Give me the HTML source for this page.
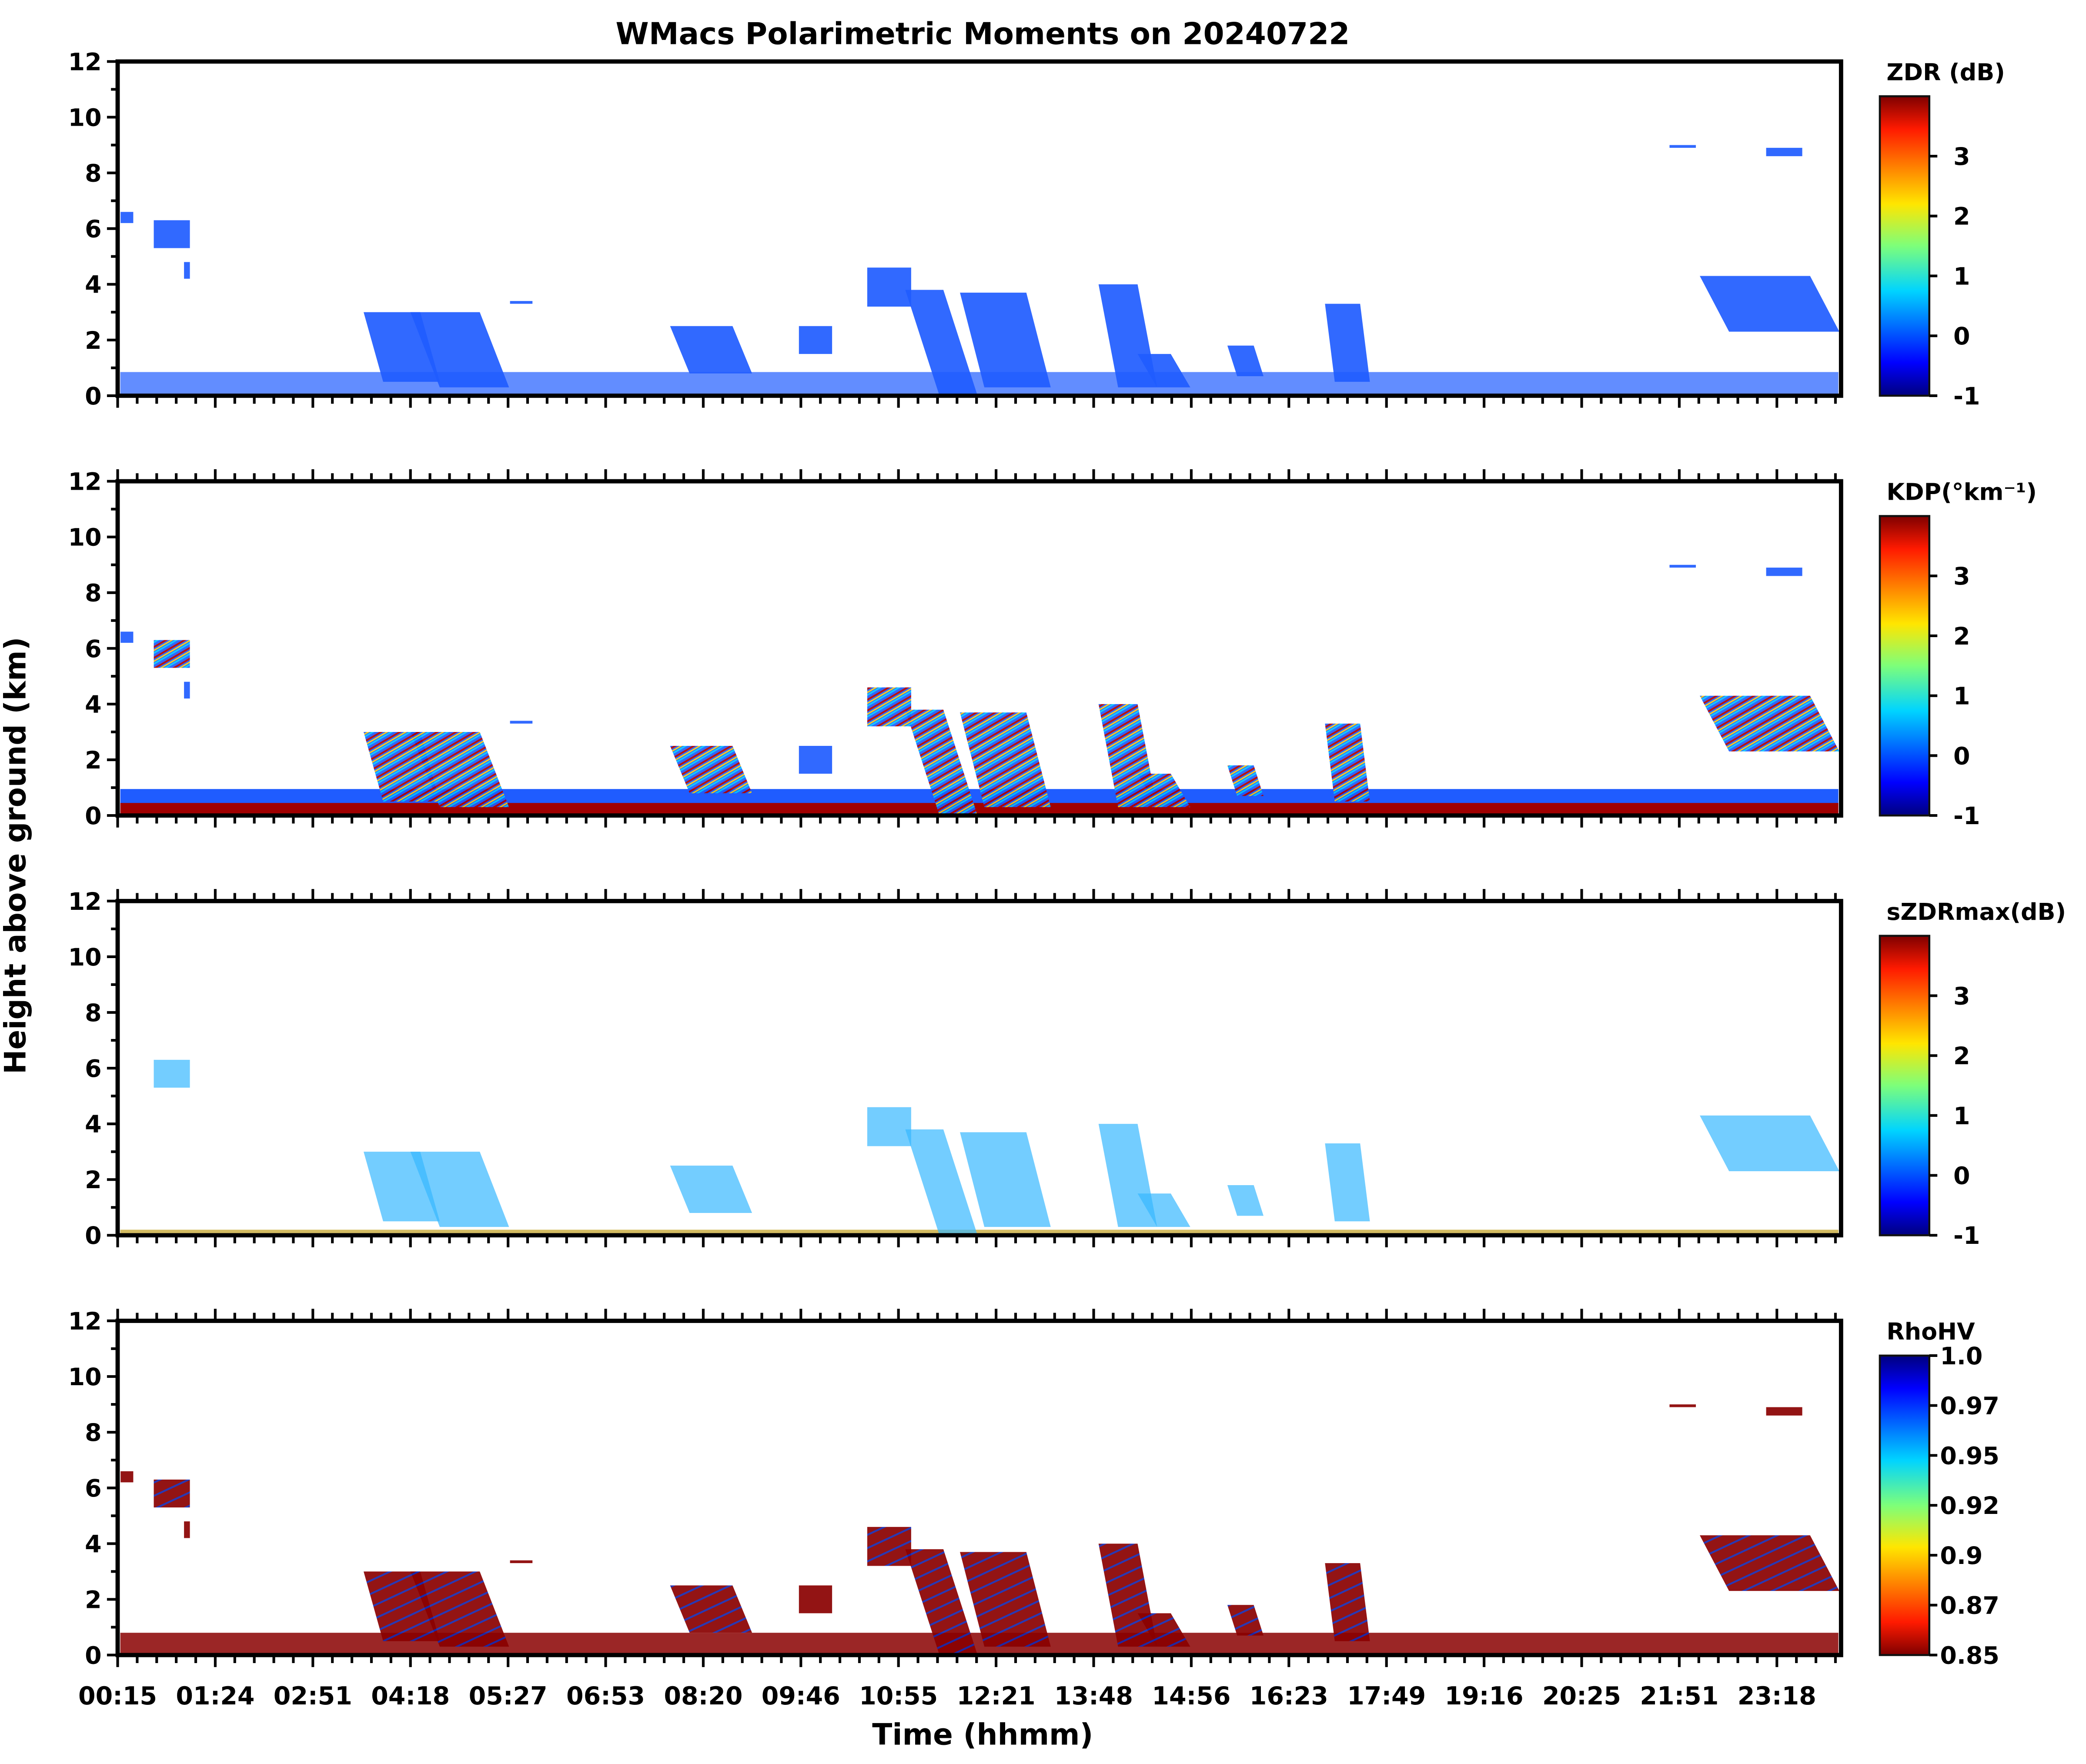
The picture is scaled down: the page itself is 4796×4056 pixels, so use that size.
<!DOCTYPE html>
<html><head><meta charset="utf-8">
<style>
html,body{margin:0;padding:0;background:#fff;}
svg{display:block;}
text{font-family:"DejaVu Sans","Liberation Sans",sans-serif;font-weight:bold;fill:#000;}
</style></head>
<body>
<svg id="fig" xmlns="http://www.w3.org/2000/svg" width="4796" height="4056" viewBox="0 0 1560.2 1319.5" preserveAspectRatio="none">
<defs>
<linearGradient id="jet" x1="0" y1="1" x2="0" y2="0">
<stop offset="0" stop-color="#00007f"/><stop offset="0.11" stop-color="#0000ff"/><stop offset="0.35" stop-color="#00d4ff"/><stop offset="0.5" stop-color="#7dff7a"/><stop offset="0.64" stop-color="#ffe600"/><stop offset="0.89" stop-color="#ff1a00"/><stop offset="1" stop-color="#7f0000"/>
</linearGradient>
<linearGradient id="jetr" x1="0" y1="0" x2="0" y2="1">
<stop offset="0" stop-color="#00007f"/><stop offset="0.11" stop-color="#0000ff"/><stop offset="0.35" stop-color="#00d4ff"/><stop offset="0.5" stop-color="#7dff7a"/><stop offset="0.64" stop-color="#ffe600"/><stop offset="0.89" stop-color="#ff1a00"/><stop offset="1" stop-color="#7f0000"/>
</linearGradient>
<pattern id="stripes" width="7" height="7" patternUnits="userSpaceOnUse" patternTransform="rotate(60)">
<rect width="7" height="7" fill="#1f5cff"/><rect width="1.4" height="7" fill="#b00000"/><rect x="2.4" width="1" height="7" fill="#ffd000"/><rect x="4" width="1.2" height="7" fill="#00c8ff"/>
</pattern>
<pattern id="redblue" width="9" height="9" patternUnits="userSpaceOnUse" patternTransform="rotate(65)">
<rect width="9" height="9" fill="#8a0000"/><rect width="1.4" height="9" fill="#1428b0"/>
</pattern>
</defs>
<g id="root"></g>
</svg>
<script>
// ---- chart data ----
const timeLabels = ["00:15","01:24","02:51","04:18","05:27","06:53","08:20","09:46","10:55","12:21","13:48","14:56","16:23","17:49","19:16","20:25","21:51","23:18"];
const heightTicks = [0,2,4,6,8,10,12];
// echo patches in time-tick units (0 = 00:15 tick, 1 per labelled tick) and km
const patchT0 = [0.03,0.37,0.68,2.72,3.30,4.02,5.86,6.98,7.68,8.42,8.88,10.25,10.65,11.47,12.47,15.90,16.89,16.51];
const patchT1 = [0.16,0.74,0.74,3.30,4.01,4.25,6.50,7.32,8.13,8.81,9.56,10.65,10.99,11.74,12.83,16.17,17.26,17.64];
const patchH0 = [6.2,5.3,4.2,0.5,0.3,3.3,0.8,1.5,3.2,0.0,0.3,0.3,0.3,0.7,0.5,8.9,8.6,2.3];
const patchH1 = [6.6,6.3,4.8,3.0,3.0,3.4,2.5,2.5,4.6,3.8,3.7,4.0,1.5,1.8,3.3,9.0,8.9,4.3];
const patchSkew = [0,0,0,-0.2,-0.3,0,-0.2,0,0,-0.35,-0.25,-0.2,-0.2,-0.1,-0.1,0,0,-0.3];
const convective = [0,1,0,1,1,0,1,0,1,1,1,1,1,1,1,0,0,1];
const cbZdrTicks = [-1,0,1,2,3];
const cbRhoTicks = ["1.0","0.97","0.95","0.92","0.9","0.87","0.85"];
const panelTitles = ["ZDR (dB)","KDP(°km⁻¹)","sZDRmax(dB)","RhoHV"];
// ---- layout ----
const NS="http://www.w3.org/2000/svg";
const root=document.getElementById('root');
const X0=88, X1=1377, TICKSTEP=73.0, TMAX=(X1-X0)/TICKSTEP;
const panelTops=[46,360,674,988], PH=250;
const CBX0=1406, CBX1=1443;
function mk(tag,attrs,parent){const e=document.createElementNS(NS,tag);for(const k in attrs)e.setAttribute(k,attrs[k]);(parent||root).appendChild(e);return e;}
function xs(t){return X0+t*TICKSTEP;}
function ys(p,h){return panelTops[p]+PH-h/12*PH;}

const title=mk('text',{x:735,y:33,'font-size':22.5,'text-anchor':'middle'});


title.textContent='WMacs Polarimetric Moments on 20240722';

const yl=mk('text',{x:19,y:640,'font-size':22,'text-anchor':'middle',transform:'rotate(-90 19 640)'});


yl.textContent='Height above ground (km)';

const xl=mk('text',{x:735,y:1305,'font-size':22,'text-anchor':'middle'});


xl.textContent='Time (hhmm)';

const fills=['#1f5cff','stripes','#38b8ff','#8a0000'];
for(let p=0;p<4;p++){
  const g=mk('g',{});
  
  
  const top=panelTops[p], bot=top+PH;
  if(p===0){
    const b=mk('rect',{x:xs(0)+2,y:ys(p,0.85),width:X1-X0-4,height:ys(p,0)-ys(p,0.85),fill:'#1f5cff',opacity:0.7},g);
    
    
  } else if(p===1){
    const b=mk('rect',{x:xs(0)+2,y:ys(p,0.95),width:X1-X0-4,height:ys(p,0)-ys(p,0.95),fill:'#1f5cff'},g);
    
    
    const b2=mk('rect',{x:xs(0)+2,y:ys(p,0.45),width:X1-X0-4,height:ys(p,0)-ys(p,0.45),fill:'#a00000'},g);
    
    
  } else if(p===2){
    const b=mk('rect',{x:xs(0)+2,y:ys(p,0.2),width:X1-X0-4,height:ys(p,0)-ys(p,0.2),fill:'#c0a020',opacity:0.7},g);
    
    
  } else {
    const b=mk('rect',{x:xs(0)+2,y:ys(p,0.8),width:X1-X0-4,height:ys(p,0)-ys(p,0.8),fill:'#8a0000',opacity:0.85},g);
    
    
  }
  for(let i=0;i<patchT0.length;i++){
    if(p===2 && !convective[i]) continue;
    let f=fills[p];
    if(p===1) f=convective[i]?'url(#stripes)':'#1f5cff';
    if(p===3) f=convective[i]?'url(#redblue)':'#8a0000';
    const s=patchSkew[i];
    const t0=patchT0[i],t1=Math.min(patchT1[i],TMAX),h0=patchH0[i],h1=patchH1[i];
    const pts=[[xs(t0),ys(p,h0)],[xs(t1),ys(p,h0)],[Math.min(xs(t1+s),X1),ys(p,h1)],[xs(t0+s),ys(p,h1)]].map(a=>a.join(',')).join(' ');
    const poly=mk('polygon',{points:pts,fill:f,opacity:p===2?0.7:0.92},g);
    
    
  }
  const fr=mk('rect',{x:X0,y:top,width:X1-X0,height:PH,fill:'none',stroke:'#000','stroke-width':3.2},g);
  
  
  for(let h=0;h<=12;h++){
    const major=h%2===0;
    mk('line',{x1:X0-(major?8:5),x2:X0,y1:ys(p,h),y2:ys(p,h),stroke:'#000','stroke-width':2},g);
  }
  heightTicks.forEach(h=>{
    const t=mk('text',{x:X0-12,y:ys(p,h)+6.5,'font-size':18,'text-anchor':'end'},g);
    
    
    t.textContent=h;
  });
  for(let k=0;k*0.2<=TMAX+0.001;k++){
    const x=xs(k*0.2), major=k%5===0;
    mk('line',{x1:x,x2:x,y1:bot,y2:bot+(major?9:6),stroke:'#000','stroke-width':2},g);
    if(p>0) mk('line',{x1:x,x2:x,y1:top,y2:top-(major?9:6),stroke:'#000','stroke-width':2},g);
  }
  const cbTop=top+26;
  const cb=mk('rect',{x:CBX0,y:cbTop,width:CBX1-CBX0,height:bot-cbTop,fill:p===3?'url(#jetr)':'url(#jet)',stroke:'#111','stroke-width':1.5},g);
  
  
  const ct=mk('text',{x:1411,y:top+14,'font-size':17.5},g);
  
  
  ct.textContent=panelTitles[p];
  if(p<3){
    const per=(bot-cbTop)/5;
    cbZdrTicks.forEach(v=>{
      const y=bot-(v+1)*per;
      mk('line',{x1:CBX1,x2:CBX1+6,y1:y,y2:y,stroke:'#000','stroke-width':2},g);
      const t=mk('text',{x:CBX1+18,y:y+6.5,'font-size':18},g);
      
      
      t.textContent=v;
    });
  } else {
    const step=(bot-cbTop)/(cbRhoTicks.length-1);
    cbRhoTicks.forEach((v,i)=>{
      const y=cbTop+i*step;
      mk('line',{x1:CBX1,x2:CBX1+6,y1:y,y2:y,stroke:'#000','stroke-width':2},g);
      const t=mk('text',{x:CBX1+8,y:y+6.5,'font-size':18},g);
      
      
      t.textContent=v;
    });
  }
}
timeLabels.forEach((lab,i)=>{
  const t=mk('text',{x:xs(i),y:1275,'font-size':18.5,'text-anchor':'middle'});
  
  
  t.textContent=lab;
});
</script>
</body></html>
